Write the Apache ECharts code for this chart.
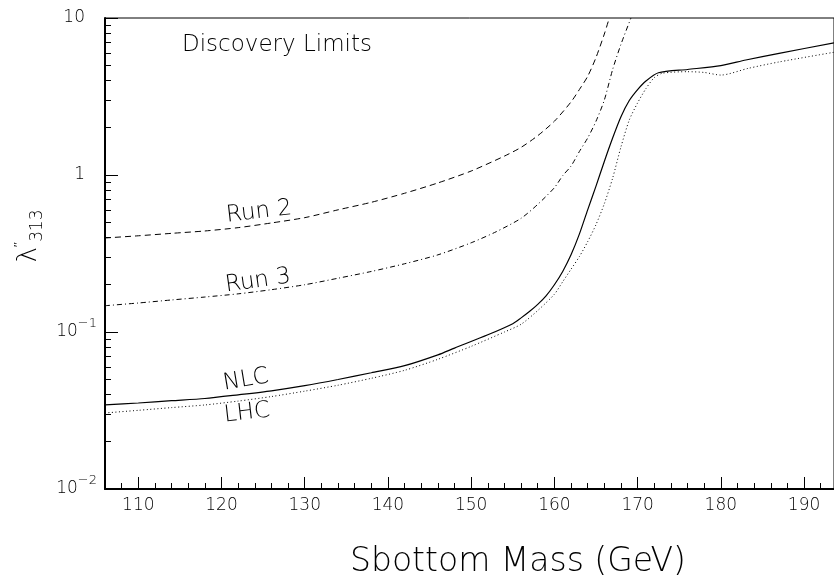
<!DOCTYPE html>
<html>
<head>
<meta charset="utf-8">
<script src="https://cdn.jsdelivr.net/npm/echarts@6/dist/echarts.min.js"></script>
<style>
html,body{margin:0;padding:0;background:#fff;}
#chart{width:834px;height:581px;}
</style>
</head>
<body>
<div id="chart"></div>
<script>
// ---- data ----
const xMajorTicks = [110, 120, 130, 140, 150, 160, 170, 180, 190];
const xMinorTicks = [108, 112, 114, 116, 118, 122, 124, 126, 128, 132, 134, 136, 138, 142, 144, 146, 148, 152, 154, 156, 158, 162, 164, 166, 168, 172, 174, 176, 178, 182, 184, 186, 188, 192];
const yMajorTicks = [0.01, 0.1, 1, 10];
const yMinorTicks = [0.02, 0.03, 0.04, 0.05, 0.06, 0.07, 0.08, 0.09, 0.2, 0.3, 0.4, 0.5, 0.6, 0.7, 0.8, 0.9, 2, 3, 4, 5, 6, 7, 8, 9];

const run2Mass = [106, 110, 114, 118, 122, 126, 130, 134, 138, 142, 146, 150, 154, 156, 158, 160, 162, 163, 164, 165, 166, 166.6];
const run2Val  = [0.397, 0.41, 0.425, 0.44, 0.462, 0.495, 0.535, 0.6, 0.67, 0.765, 0.89, 1.06, 1.32, 1.5, 1.78, 2.2, 2.92, 3.5, 4.25, 5.6, 7.9, 10];

const run3Mass = [106, 110, 114, 118, 122, 126, 130, 134, 138, 142, 146, 150, 153, 156, 158, 160, 161, 162, 163, 164, 165, 166, 167, 168, 169.2];
const run3Val  = [0.147, 0.153, 0.16, 0.167, 0.175, 0.186, 0.2, 0.22, 0.243, 0.272, 0.31, 0.37, 0.435, 0.53, 0.65, 0.83, 0.99, 1.14, 1.41, 1.72, 2.2, 3.0, 4.7, 6.8, 10];

const nlcMass = [106, 110, 114, 118, 122, 126, 130, 134, 138, 142, 146, 148, 152, 155, 156, 157, 158, 159, 160, 161, 162, 163, 164, 165, 166, 167, 168, 169, 170, 171, 172.5, 176, 180, 183, 187, 193.6];
const nlcVal  = [0.0343, 0.0353, 0.0365, 0.0377, 0.0398, 0.0422, 0.0455, 0.0498, 0.055, 0.061, 0.0715, 0.079, 0.096, 0.113, 0.123, 0.135, 0.15, 0.17, 0.2, 0.243, 0.31, 0.42, 0.6, 0.85, 1.22, 1.72, 2.35, 2.98, 3.5, 3.97, 4.48, 4.7, 4.97, 5.4, 5.95, 6.95];

const lhcMass = [106, 110, 114, 118, 122, 126, 130, 134, 138, 142, 146, 150, 154, 156, 158, 160, 161, 162, 163, 164, 165, 166, 167, 168, 169, 170, 171, 172, 173, 176, 178, 180, 183.3, 187, 193.6];
const lhcVal  = [0.0305, 0.0317, 0.033, 0.0343, 0.0363, 0.0388, 0.042, 0.0458, 0.0507, 0.057, 0.067, 0.081, 0.1, 0.112, 0.137, 0.174, 0.209, 0.251, 0.302, 0.376, 0.483, 0.656, 0.955, 1.51, 2.24, 2.88, 3.55, 4.17, 4.45, 4.55, 4.5, 4.33, 4.78, 5.25, 6.05];

const pairs = (xs, ys) => xs.map((x, i) => [x, ys[i]]);

const FONT = 'DejaVu Sans';
const chart = echarts.init(document.getElementById('chart'), null, {renderer: 'canvas'});

function yLabel(v) {
  const e = Math.round(Math.log10(v));
  if (e === 0) return '{p|1}';
  if (e === 1) return '{p|10}';
  return '{b|10}{e|\u2212' + Math.abs(e) + '}';
}

const option = {
  backgroundColor: '#fff',
  animation: false,
  grid: {
    left: 105, right: -2, top: 18, bottom: 92,
    show: true, borderColor: '#000', borderWidth: 1, backgroundColor: 'transparent'
  },
  xAxis: [
    {
      type: 'value', min: 106, max: 193.6, position: 'bottom',
      axisLine: {show: true, onZero: false, lineStyle: {color: '#000', width: 2}},
      axisTick: {show: true, inside: true, length: 12, customValues: xMajorTicks, lineStyle: {color: '#000', width: 1}},
      axisLabel: {show: true, customValues: xMajorTicks, color: '#000', fontSize: 17, fontFamily: FONT, fontWeight: 200, margin: 8},
      splitLine: {show: false}
    },
    {
      type: 'value', min: 106, max: 193.6, position: 'bottom',
      axisLine: {show: false, onZero: false},
      axisTick: {show: true, inside: true, length: 6, customValues: xMinorTicks, lineStyle: {color: '#000', width: 1}},
      axisLabel: {show: false},
      splitLine: {show: false}
    }
  ],
  yAxis: [
    {
      type: 'log', logBase: 10, min: 0.01, max: 10, position: 'left',
      axisLine: {show: true, onZero: false, lineStyle: {color: '#000', width: 2}},
      axisTick: {show: true, inside: true, length: 13, customValues: yMajorTicks, lineStyle: {color: '#000', width: 1}},
      axisLabel: {
        show: true, customValues: yMajorTicks, margin: 8, color: '#000',
        formatter: yLabel,
        rich: {
          p: {fontSize: 17, fontFamily: FONT, fontWeight: 200, color: '#000', padding: [0, 12, 0, 0], lineHeight: 30},
          b: {fontSize: 17, fontFamily: FONT, fontWeight: 200, color: '#000', lineHeight: 30},
          e: {fontSize: 13, fontFamily: FONT, fontWeight: 200, color: '#000', lineHeight: 12, verticalAlign: 'top'}
        }
      },
      splitLine: {show: false}
    },
    {
      type: 'log', logBase: 10, min: 0.01, max: 10, position: 'left',
      axisLine: {show: false, onZero: false},
      axisTick: {show: true, inside: true, length: 6, customValues: yMinorTicks, lineStyle: {color: '#000', width: 1}},
      axisLabel: {show: false},
      splitLine: {show: false}
    }
  ],
  series: [
    {name: 'Run 2', type: 'line', data: pairs(run2Mass, run2Val), showSymbol: false, smooth: 0.25, clip: true,
     lineStyle: {color: '#000', width: 1, type: [6, 4]}},
    {name: 'Run 3', type: 'line', data: pairs(run3Mass, run3Val), showSymbol: false, smooth: 0.25, clip: true,
     lineStyle: {color: '#000', width: 1, type: [5, 3, 1, 3]}},
    {name: 'NLC', type: 'line', data: pairs(nlcMass, nlcVal), showSymbol: false, smooth: 0.25, clip: true,
     lineStyle: {color: '#000', width: 1.2, type: 'solid'}},
    {name: 'LHC', type: 'line', data: pairs(lhcMass, lhcVal), showSymbol: false, smooth: 0.25, clip: true,
     lineStyle: {color: '#000', width: 1, type: [1, 2.5]}}
  ],
  graphic: [
    {type: 'text', x: 182, y: 45, style: {text: 'Discovery Limits', fill: '#000', fontSize: 23, fontFamily: FONT, fontWeight: 200, align: 'left', verticalAlign: 'middle'}},
    {type: 'text', x: 259, y: 212, rotation: 6.6 * Math.PI / 180, style: {text: 'Run 2', fill: '#000', fontSize: 23, fontFamily: FONT, fontWeight: 200, align: 'center', verticalAlign: 'middle'}},
    {type: 'text', x: 258, y: 281, rotation: 8 * Math.PI / 180, style: {text: 'Run 3', fill: '#000', fontSize: 23, fontFamily: FONT, fontWeight: 200, align: 'center', verticalAlign: 'middle'}},
    {type: 'text', x: 246, y: 380, rotation: 9.5 * Math.PI / 180, style: {text: 'NLC', fill: '#000', fontSize: 23, fontFamily: FONT, fontWeight: 200, align: 'center', verticalAlign: 'middle'}},
    {type: 'text', x: 247, y: 413, rotation: 6.5 * Math.PI / 180, style: {text: 'LHC', fill: '#000', fontSize: 23, fontFamily: FONT, fontWeight: 200, align: 'center', verticalAlign: 'middle'}},
    {type: 'text', x: 518, y: 562, style: {text: 'Sbottom Mass (GeV)', fill: '#000', fontSize: 33, fontFamily: FONT, fontWeight: 200, align: 'center', verticalAlign: 'middle'}},
    {type: 'text', x: 29, y: 236, rotation: Math.PI / 2, style: {
      text: '{l|\u03bb}{p|\u2033}{s|313}', align: 'center', verticalAlign: 'middle',
      rich: {
        l: {fontSize: 26, fontFamily: FONT, fontWeight: 200, fill: '#000', lineHeight: 34, verticalAlign: 'middle'},
        p: {fontSize: 13, fontFamily: FONT, fontWeight: 200, fill: '#000', lineHeight: 14, verticalAlign: 'top'},
        s: {fontSize: 17, fontFamily: FONT, fontWeight: 200, fill: '#000', lineHeight: 16, verticalAlign: 'bottom'}
      }
    }}
  ]
};
chart.setOption(option);
</script>
</body>
</html>
